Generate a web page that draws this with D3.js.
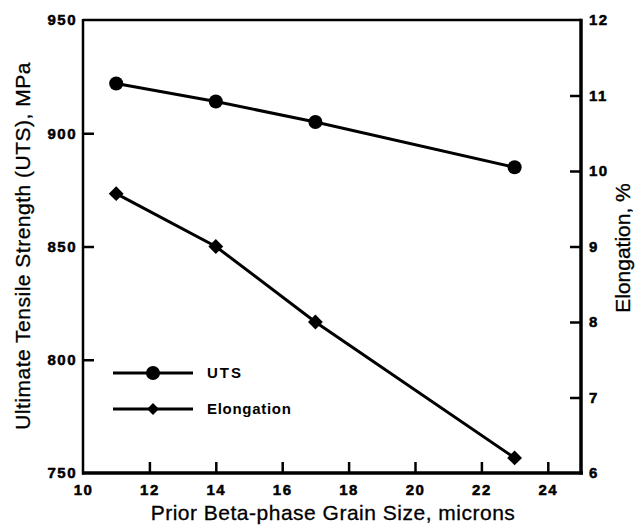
<!DOCTYPE html>
<html>
<head>
<meta charset="utf-8">
<script src="https://cdn.jsdelivr.net/npm/d3@7"></script>
<style>
  body { margin: 0; background: #fff; }
  svg { display: block; font-family: "Liberation Sans", Arial, sans-serif; }
</style>
</head>
<body>
<div id="main"></div>
<script>
var ctx = {
    w: 644,
    h: 525,
    left: 83,
    right: 581,
    top: 20,
    bottom: 473
};

// data
var grainSize = [11, 14, 17, 23];
var uts = [922, 914, 905, 885];
var elongation = [9.7, 9.0, 8.0, 6.2];

var xTicks = [10, 12, 14, 16, 18, 20, 22, 24];
var yLeftTicks = [750, 800, 850, 900, 950];
var yRightTicks = [6, 7, 8, 9, 10, 11, 12];

var legendItems = ["UTS", "Elongation"];

var svg = d3.select("#main").append("svg")
    .attr("width", ctx.w)
    .attr("height", ctx.h);

var x = d3.scaleLinear().domain([10, 25]).range([ctx.left, ctx.right]);
var yL = d3.scaleLinear().domain([750, 950]).range([ctx.bottom, ctx.top]);
var yR = d3.scaleLinear().domain([6, 12]).range([ctx.bottom, ctx.top]);

var fmt = d3.format("d");

// axes, ticks pointing inward
var xAxis = svg.append("g")
    .attr("transform", "translate(0," + ctx.bottom + ")")
    .call(d3.axisBottom(x).tickValues(xTicks).tickFormat(fmt).tickSize(-11).tickPadding(11).tickSizeOuter(0));
var lAxis = svg.append("g")
    .attr("transform", "translate(" + ctx.left + ",0)")
    .call(d3.axisLeft(yL).tickValues(yLeftTicks).tickFormat(fmt).tickSize(-11).tickPadding(6).tickSizeOuter(0));
var rAxis = svg.append("g")
    .attr("transform", "translate(" + ctx.right + ",0)")
    .call(d3.axisRight(yR).tickValues(yRightTicks).tickFormat(fmt).tickSize(-11).tickPadding(8).tickSizeOuter(0));

[xAxis, lAxis, rAxis].forEach(function(a){
    a.attr("font-size", null).attr("font-family", null);
    a.selectAll(".tick line").attr("stroke", "#000").attr("stroke-width", 2.5);
    a.selectAll(".tick text")
        .attr("fill", "#000")
        .style("font-size", "15px")
        .style("font-weight", "bold")
        .style("letter-spacing", "1.5px")
        .style("stroke", "#000")
        .style("stroke-width", "0.5px");
    a.select(".domain").remove();
});
// no tick lines at the frame corners
xAxis.selectAll(".tick").filter(function(d){ return d == 10; }).select("line").remove();
lAxis.selectAll(".tick").filter(function(d){ return d == 750 || d == 950; }).select("line").remove();
rAxis.selectAll(".tick").filter(function(d){ return d == 6 || d == 12; }).select("line").remove();
xAxis.selectAll(".tick text").attr("dy", "0.71em");

// frame
svg.append("line").attr("x1", ctx.left).attr("x2", ctx.right).attr("y1", ctx.top).attr("y2", ctx.top)
    .attr("stroke", "#000").attr("stroke-width", 2.5);
svg.append("line").attr("x1", ctx.left).attr("x2", ctx.left).attr("y1", ctx.top - 1).attr("y2", ctx.bottom + 1.5)
    .attr("stroke", "#000").attr("stroke-width", 2.5);
svg.append("line").attr("x1", ctx.left - 1).attr("x2", ctx.right + 2).attr("y1", ctx.bottom).attr("y2", ctx.bottom)
    .attr("stroke", "#000").attr("stroke-width", 3.5);
svg.append("line").attr("x1", ctx.right).attr("x2", ctx.right).attr("y1", ctx.top - 1.2).attr("y2", ctx.bottom + 1.5)
    .attr("stroke", "#000").attr("stroke-width", 3.5);

// series lines
var utsLine = d3.line()
    .x(function(d, i){ return x(grainSize[i]); })
    .y(function(d){ return yL(d); });
var elLine = d3.line()
    .x(function(d, i){ return x(grainSize[i]); })
    .y(function(d){ return yR(d); });

svg.append("path").datum(uts).attr("d", utsLine)
    .attr("fill", "none").attr("stroke", "#000").attr("stroke-width", 3);
svg.append("path").datum(elongation).attr("d", elLine)
    .attr("fill", "none").attr("stroke", "#000").attr("stroke-width", 3);

var circleSym = d3.symbol().type(d3.symbolCircle).size(155);
var diamondSym = d3.symbol().type(d3.symbolSquare).size(110);

svg.append("g").selectAll("path")
    .data(uts)
    .enter()
    .append("path")
    .attr("d", circleSym)
    .attr("transform", function(d, i){ return "translate(" + x(grainSize[i]) + "," + yL(d) + ")"; })
    .attr("fill", "#000");

svg.append("g").selectAll("path")
    .data(elongation)
    .enter()
    .append("path")
    .attr("d", diamondSym)
    .attr("transform", function(d, i){ return "translate(" + x(grainSize[i]) + "," + yR(d) + ") rotate(45)"; })
    .attr("fill", "#000");

// legend
var legend = svg.append("g").selectAll("g")
    .data(legendItems)
    .enter()
    .append("g")
    .attr("transform", function(d, i){ return "translate(113," + (373 + i * 36) + ")"; });
legend.append("line").attr("x1", 0).attr("x2", 80).attr("y1", 0).attr("y2", 0)
    .attr("stroke", "#000").attr("stroke-width", 3);
legend.append("path")
    .attr("d", function(d, i){ return i == 0 ? circleSym() : d3.symbol().type(d3.symbolSquare).size(70)(); })
    .attr("transform", function(d, i){ return "translate(40,0)" + (i == 1 ? " rotate(45)" : ""); })
    .attr("fill", "#000");
legend.append("text")
    .attr("x", 94)
    .attr("dy", "0.36em")
    .style("font-size", "15px")
    .style("font-weight", "bold")
    .style("letter-spacing", function(d){ return d == "UTS" ? "2px" : "0.7px"; })
    .text(function(d){ return d; });

// axis titles
svg.append("text")
    .attr("x", 333)
    .attr("y", 520)
    .attr("text-anchor", "middle")
    .style("font-size", "21px")
    .style("letter-spacing", "0.5px")
    .style("stroke", "#000")
    .style("stroke-width", "0.3px")
    .text("Prior Beta-phase Grain Size, microns");

svg.append("text")
    .attr("transform", "translate(30,246) rotate(-90)")
    .attr("text-anchor", "middle")
    .style("font-size", "21px")
    .style("letter-spacing", "0.5px")
    .style("stroke", "#000")
    .style("stroke-width", "0.3px")
    .text("Ultimate Tensile Strength (UTS), MPa");

svg.append("text")
    .attr("transform", "translate(630,248) rotate(-90)")
    .attr("text-anchor", "middle")
    .style("font-size", "21px")
    .style("stroke", "#000")
    .style("stroke-width", "0.3px")
    .text("Elongation, %");
</script>
</body>
</html>
